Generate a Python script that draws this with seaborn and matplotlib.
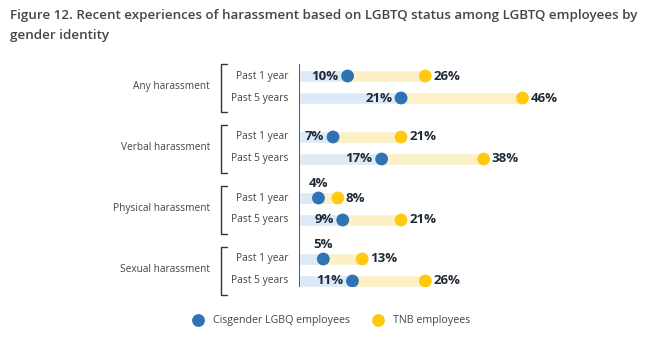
import matplotlib
matplotlib.use("Agg")
import matplotlib.pyplot as plt
import seaborn as sns
import pandas as pd
import numpy as np

categories = ["Any harassment", "Verbal harassment", "Physical harassment", "Sexual harassment"]
periods = ["Past 1 year", "Past 5 years"]
cis_values = [10, 21, 7, 17, 4, 9, 5, 11]
tnb_values = [26, 46, 21, 38, 8, 21, 13, 26]
series_names = ["Cisgender LGBQ employees", "TNB employees"]
title = "Figure 12. Recent experiences of harassment based on LGBTQ status among LGBTQ employees by\ngender identity"

BLUE = "#2E74B5"
YELLOW = "#FFC90E"
LBLUE = "#DCEAF8"
LYELLOW = "#FBF0C6"
TXT = "#1f2a36"
GRAY = "#444444"

sns.set_theme(style="white")
plt.rcParams["font.family"] = ["Open Sans", "DejaVu Sans"]

W, H = 658, 339
fig = plt.figure(figsize=(W / 100, H / 100), dpi=100)

# axes: x=0 at px 299, 4.86 px per %, y from px 64 to 287
px_per = 4.86
x0 = 299
xmax = 62
ax_left = x0 / W
ax_w = xmax * px_per / W
top_px, bot_px = 64, 287
ax = fig.add_axes([ax_left, 1 - bot_px / H, ax_w, (bot_px - top_px) / H])

unit = 22.0  # px per y unit
group_step = 61.0 / unit
ypos = []
for g in range(len(categories)):
    for s in range(len(periods)):
        ypos.append(g * group_step + s)
ypos = np.array(ypos)
first_px = 76
ax.set_ylim((bot_px - first_px) / unit, -(first_px - top_px) / unit)
ax.set_xlim(0, xmax)

bh = 0.55
cis = np.array(cis_values)
tnb = np.array(tnb_values)
ax.barh(ypos, cis, height=bh, color=LBLUE, zorder=1)
ax.barh(ypos, tnb - cis, left=cis, height=bh, color=LYELLOW, zorder=1)

df = pd.DataFrame({
    "value": np.concatenate([cis, tnb]),
    "y": np.concatenate([ypos, ypos]),
    "series": [series_names[0]] * len(cis) + [series_names[1]] * len(tnb),
})
sns.scatterplot(data=df, x="value", y="y", hue="series",
                palette={series_names[0]: BLUE, series_names[1]: YELLOW},
                s=85, linewidth=0, ax=ax, zorder=3)

off = 9 / px_per
for y, c, t in zip(ypos, cis, tnb):
    if c < 6:
        ax.text(c, y - 0.68, f"{c}%", ha="center", va="center", fontsize=9.5,
                fontweight="bold", color=TXT)
    else:
        ax.text(c - off, y, f"{c}%", ha="right", va="center", fontsize=9.5,
                fontweight="bold", color=TXT)
    ax.text(t + 8 / px_per, y, f"{t}%", ha="left", va="center", fontsize=9.5,
            fontweight="bold", color=TXT)

# y labels
def px2x(px):
    return (px - x0) / px_per

for i, y in enumerate(ypos):
    ax.text(px2x(288), y, periods[i % 2], ha="right", va="center",
            fontsize=7.4, color=GRAY, clip_on=False)

for g, cat in enumerate(categories):
    yt = ypos[2 * g] - 12 / unit
    yb = ypos[2 * g + 1] + 14 / unit
    xb = px2x(221)
    xe = px2x(227)
    ax.plot([xe, xb, xb, xe], [yt, yt, yb, yb], color="#333333", lw=1.0,
            clip_on=False, solid_joinstyle="miter")
    ax.text(px2x(210), (ypos[2 * g] + ypos[2 * g + 1]) / 2, cat, ha="right",
            va="center", fontsize=7.3, color=GRAY, clip_on=False)

ax.axvline(0, color="#555555", lw=1.4, zorder=4)
for sp in ax.spines.values():
    sp.set_visible(False)
ax.set_xticks([])
ax.set_yticks([])
ax.set_xlabel("")
ax.set_ylabel("")

sns.move_legend(ax, "center", bbox_to_anchor=(0.5, 1 - 321 / H),
                bbox_transform=fig.transFigure, ncol=2, frameon=False,
                title=None, fontsize=7.7, handletextpad=0.4, columnspacing=1.6,
                markerscale=1.0)
for t in ax.get_legend().get_texts():
    t.set_color(GRAY)

fig.text(10 / W, 1 - 9 / H, title, ha="left", va="top", fontsize=9.6,
         fontweight="semibold", color="#454545", linespacing=1.75)

fig.savefig("out.png", dpi=100)
